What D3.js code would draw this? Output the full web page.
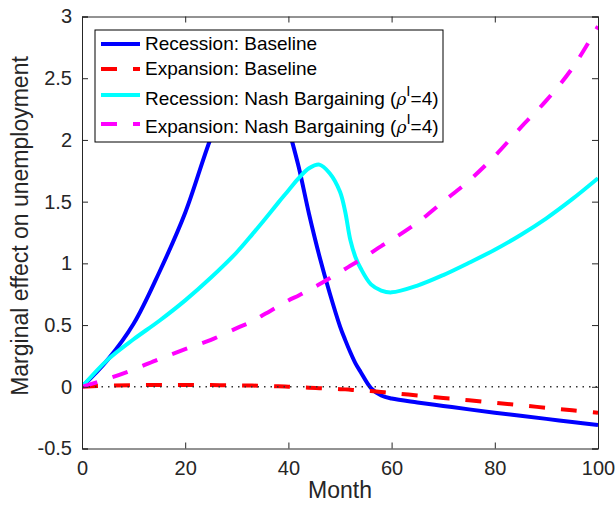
<!DOCTYPE html>
<html>
<head>
<meta charset="utf-8">
<script src="https://cdn.jsdelivr.net/npm/d3@7"></script>
<style>
  body { margin: 0; background: #fff; }
  svg { font-family: "Liberation Sans", Arial, Helvetica, sans-serif; }
</style>
</head>
<body>
<div id="chart-area"></div>
<script>
// Data
var months       = [0, 5, 10, 15, 20, 25, 30, 33, 35, 38, 40, 42, 44, 46, 48, 50, 51, 52, 53, 54, 56, 58, 60, 65, 70, 75, 80, 85, 90, 95, 100];
var recBaseline  = [0, 0.22, 0.51, 0.93, 1.41, 2.02, 2.52, 2.65, 2.64, 2.42, 2.10, 1.78, 1.40, 1.06, 0.76, 0.49, 0.38, 0.28, 0.19, 0.12, -0.01, -0.07, -0.095, -0.127, -0.155, -0.183, -0.21, -0.235, -0.26, -0.285, -0.31];
var expBaseline  = [0, 0.010, 0.013, 0.014, 0.015, 0.014, 0.012, 0.010, 0.008, 0.004, 0.000, -0.004, -0.007, -0.011, -0.015, -0.019, -0.021, -0.024, -0.027, -0.029, -0.035, -0.042, -0.05, -0.07, -0.09, -0.11, -0.13, -0.15, -0.17, -0.19, -0.21];
var recNash      = [0, 0.22, 0.385, 0.535, 0.70, 0.885, 1.09, 1.235, 1.335, 1.49, 1.59, 1.69, 1.77, 1.80, 1.73, 1.58, 1.42, 1.19, 1.05, 0.96, 0.83, 0.78, 0.765, 0.82, 0.905, 1.005, 1.11, 1.23, 1.365, 1.52, 1.69];
var expNash      = [0, 0.065, 0.14, 0.225, 0.305, 0.38, 0.475, 0.53, 0.58, 0.65, 0.70, 0.74, 0.785, 0.83, 0.88, 0.93, 0.955, 0.98, 1.005, 1.03, 1.085, 1.14, 1.19, 1.33, 1.50, 1.67, 1.87, 2.10, 2.32, 2.58, 2.92];

var xTicks = [0, 20, 40, 60, 80, 100];
var yTicks = [-0.5, 0, 0.5, 1, 1.5, 2, 2.5, 3];

var series = [
    { name: "Recession: Baseline", values: recBaseline, color: "#0000ff", dash: null },
    { name: "Expansion: Baseline", values: expBaseline, color: "#ff0000", dash: "16,16" },
    { name: "Recession: Nash Bargaining", values: recNash, color: "#00ffff", dash: null, rho: true },
    { name: "Expansion: Nash Bargaining", values: expNash, color: "#ff00ff", dash: "16,16", rho: true }
];

var margin = { left: 82, right: 18, top: 16.5, bottom: 56.5 };
var width = 616 - margin.left - margin.right,
    height = 505 - margin.top - margin.bottom;

var svg = d3.select("#chart-area")
    .append("svg")
        .attr("width", 616)
        .attr("height", 505);

var g = svg.append("g")
    .attr("transform", "translate(" + margin.left + ", " + margin.top + ")");

svg.append("defs").append("clipPath")
    .attr("id", "plot-clip")
    .append("rect")
        .attr("width", width)
        .attr("height", height);

var x = d3.scaleLinear().domain([0, 100]).range([0, width]);
var y = d3.scaleLinear().domain([-0.5, 3]).range([height, 0]);

var axisColor = "#262626";

// Lines
var line = d3.line()
    .x(function(d){ return x(d[0]); })
    .y(function(d){ return y(d[1]); })
    .curve(d3.curveCatmullRom.alpha(0.5));

var plot = g.append("g").attr("clip-path", "url(#plot-clip)");

series.forEach(function(s) {
    plot.append("path")
        .datum(months.map(function(m, i){ return [m, s.values[i]]; }))
        .attr("fill", "none")
        .attr("stroke", s.color)
        .attr("stroke-width", 4)
        .attr("stroke-dasharray", s.dash)
        .attr("d", line);
});

// zero reference line
plot.append("line")
    .attr("x1", 0).attr("x2", width)
    .attr("y1", y(0)).attr("y2", y(0))
    .attr("stroke", "#333")
    .attr("stroke-width", 1.5)
    .attr("stroke-dasharray", "1.5,5");

// Axes (box with inward ticks)
var xAxisCall = d3.axisBottom(x).tickValues(xTicks).tickSize(-6).tickPadding(12).tickFormat(d3.format("d"));
var xTopCall = d3.axisTop(x).tickValues(xTicks).tickSize(-6).tickFormat("");
var yAxisCall = d3.axisLeft(y).tickValues(yTicks).tickSize(-6).tickPadding(10).tickFormat(function(d){ return d; });
var yRightCall = d3.axisRight(y).tickValues(yTicks).tickSize(-6).tickFormat("");

var xAxisGroup = g.append("g").attr("transform", "translate(0," + height + ")").call(xAxisCall);
var xTopGroup = g.append("g").call(xTopCall);
var yAxisGroup = g.append("g").call(yAxisCall);
var yRightGroup = g.append("g").attr("transform", "translate(" + width + ",0)").call(yRightCall);

[xAxisGroup, xTopGroup, yAxisGroup, yRightGroup].forEach(function(ax) {
    ax.select(".domain").attr("stroke", axisColor).attr("stroke-width", 1);
    ax.selectAll(".tick line").attr("stroke", axisColor);
    ax.selectAll(".tick text")
        .attr("fill", axisColor)
        .attr("font-size", "20px")
        .attr("font-family", "Liberation Sans, Arial, sans-serif");
});

// X Label
g.append("text")
    .attr("x", width / 2)
    .attr("y", height + 49)
    .attr("font-size", "23px")
    .attr("fill", axisColor)
    .attr("text-anchor", "middle")
    .text("Month");

// Y Label
g.append("text")
    .attr("x", -(226 - margin.top))
    .attr("y", -54)
    .attr("font-size", "23px")
    .attr("fill", axisColor)
    .attr("text-anchor", "middle")
    .attr("transform", "rotate(-90)")
    .text("Marginal effect on unemployment");

// Legend
var legend = svg.append("g").attr("transform", "translate(95,30)");
legend.append("rect")
    .attr("width", 348)
    .attr("height", 112)
    .attr("fill", "#fff")
    .attr("stroke", "#000")
    .attr("stroke-width", 1);

var lineY = [14, 39, 65, 94];
var textY = [20, 45, 75, 103];

series.forEach(function(s, i) {
    legend.append("line")
        .attr("x1", 6).attr("x2", 45)
        .attr("y1", lineY[i]).attr("y2", lineY[i])
        .attr("stroke", s.color)
        .attr("stroke-width", 4)
        .attr("stroke-dasharray", s.dash);

    var t = legend.append("text")
        .attr("x", 50)
        .attr("y", textY[i])
        .attr("font-size", "19px")
        .attr("fill", "#000");
    if (s.rho) {
        t.append("tspan").text(s.name + " (");
        t.append("tspan").attr("font-style", "italic").attr("font-family", "DejaVu Serif, serif").attr("font-size", "17px").text("\u03c1");
        t.append("tspan").attr("dy", -9).attr("font-size", "15px").text("I");
        t.append("tspan").attr("dy", 9).text("=4)");
    } else {
        t.text(s.name);
    }
});
</script>
</body>
</html>
